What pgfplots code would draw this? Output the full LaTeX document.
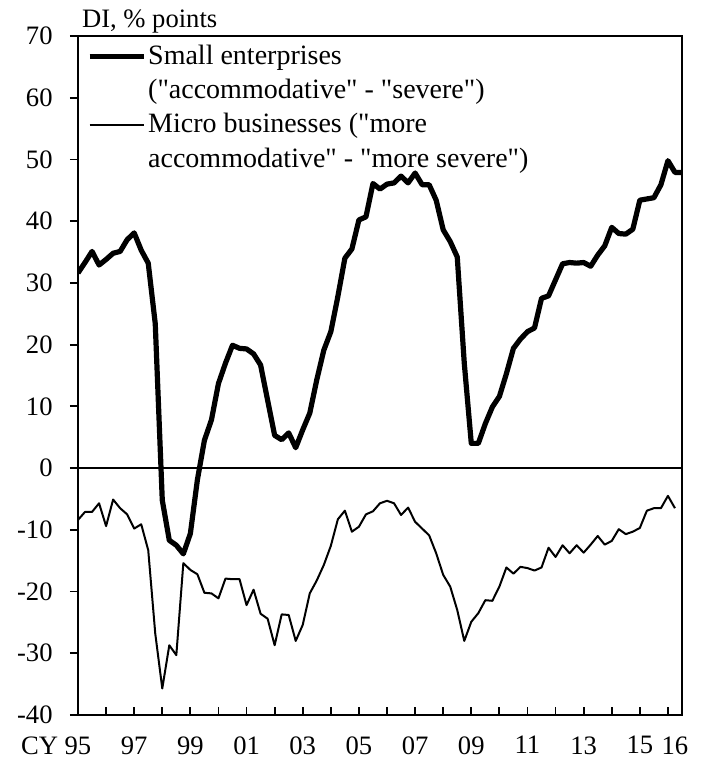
\documentclass[border=0pt]{standalone}
\usepackage{fontspec}
\setmainfont{Liberation Serif}[Ligatures=TeXOff]
\usepackage{pgfplots}
\pgfplotsset{compat=1.18}
\newcommand\ff{\fontsize{13.3}{16.3}\selectfont}
\newcommand\lf{\fontsize{14}{17}\selectfont}
\begin{document}
\begin{tikzpicture}
\useasboundingbox (-39pt,-25pt) rectangle (314.5pt,357.5pt);
\begin{axis}[
  at={(0,0)}, anchor=south west,
  scale only axis, width=302pt, height=339.5pt,
  xmin=0, xmax=86, ymin=-40, ymax=70,
  clip mode=individual,
  axis line style={line width=1.1pt},
  /pgf/number format/assume math mode=true,
  xtick={0,4,...,84},
  xticklabels={{\llap{CY\ }95},{},97,{},99,{},01,{},03,{},05,{},07,{},09,{},11,{},13,{},15,{}},
  extra x ticks={85}, extra x tick labels={16},
  extra x tick style={major tick length=0pt},
  xtick pos=lower, xtick align=inside,
  x tick style={line width=0.9pt, black}, major tick length=4pt,
  xticklabel style={font=\ff, inner sep=0pt, anchor=north, yshift=-10.5pt},
  ytick={-40,-30,...,70},
  yticklabels={-40,-30,-20,-10,0,10,20,30,40,50,60,70},
  ytick pos=left, ytick align=outside,
  y tick style={line width=0.9pt, black},
  yticklabel style={font=\ff, inner sep=0pt, anchor=east, xshift=-8.5pt},
  extra y ticks={0}, extra y tick labels={},
  extra y tick style={grid=major, major grid style={black, line width=1pt}, major tick length=0pt},
  legend style={at={(0,1)}, anchor=north west, xshift=4.5pt, yshift=-2.6pt, draw=none, fill=none,
    inner sep=0pt, outer sep=0pt, row sep=1.9pt, column sep=1pt,
    nodes={inner sep=0pt, text height=11.5pt, text depth=3.8pt, font=\lf}},
  legend cell align=left,
  legend image code/.code={\draw[#1] (0pt,0pt) -- (27pt,0pt);},
]
\addplot[black, line width=2.6pt, line join=round] coordinates {
(0,31.6)(1,33.3)(2,35.1)(3,32.9)(4,33.8)(5,34.8)(6,35.1)(7,37.0)(8,38.1)(9,35.3)
(10,33.2)(11,23.4)(12,-5.2)(13,-11.7)(14,-12.5)(15,-13.9)(16,-10.6)(17,-1.9)(18,4.5)(19,7.8)
(20,13.7)(21,17.0)(22,19.9)(23,19.4)(24,19.3)(25,18.5)(26,16.7)(27,11.0)(28,5.3)(29,4.6)
(30,5.7)(31,3.3)(32,6.2)(33,8.9)(34,14.3)(35,19.1)(36,22.1)(37,27.8)(38,34.0)(39,35.5)
(40,40.2)(41,40.7)(42,46.1)(43,45.2)(44,46.0)(45,46.2)(46,47.3)(47,46.2)(48,47.8)(49,45.9)
(50,45.9)(51,43.4)(52,38.6)(53,36.7)(54,34.2)(55,17.0)(56,4.0)(57,4.0)(58,7.2)(59,9.9)
(60,11.6)(61,15.3)(62,19.4)(63,20.9)(64,22.1)(65,22.7)(66,27.5)(67,27.9)(68,30.5)(69,33.1)
(70,33.3)(71,33.2)(72,33.3)(73,32.7)(74,34.5)(75,36.0)(76,39.0)(77,38.0)(78,37.9)(79,38.7)
(80,43.4)(81,43.6)(82,43.8)(83,45.9)(84,49.8)(85,47.9)(86,47.9)
};
\addlegendentry{Small enterprises}
\addlegendimage{empty legend}
\addlegendentry{("accommodative" - "severe")}
\addplot[black, line width=1pt, line join=round] coordinates {
(0,-8.4)(1,-7.1)(2,-7.1)(3,-5.7)(4,-9.4)(5,-5.1)(6,-6.5)(7,-7.5)(8,-9.8)(9,-9.1)
(10,-13.3)(11,-26.8)(12,-35.7)(13,-28.7)(14,-30.3)(15,-15.4)(16,-16.5)(17,-17.2)(18,-20.2)(19,-20.3)
(20,-21.1)(21,-17.9)(22,-18.0)(23,-18.0)(24,-22.2)(25,-19.7)(26,-23.6)(27,-24.4)(28,-28.7)(29,-23.7)
(30,-23.8)(31,-28.0)(32,-25.4)(33,-20.3)(34,-18.2)(35,-15.7)(36,-12.6)(37,-8.3)(38,-6.9)(39,-10.3)
(40,-9.5)(41,-7.5)(42,-7.0)(43,-5.7)(44,-5.3)(45,-5.7)(46,-7.6)(47,-6.4)(48,-8.7)(49,-9.8)
(50,-10.9)(51,-13.8)(52,-17.3)(53,-19.2)(54,-23.0)(55,-28.0)(56,-24.9)(57,-23.5)(58,-21.4)(59,-21.5)
(60,-19.2)(61,-16.1)(62,-17.1)(63,-16.0)(64,-16.2)(65,-16.6)(66,-16.1)(67,-12.9)(68,-14.4)(69,-12.5)
(70,-13.8)(71,-12.5)(72,-13.7)(73,-12.4)(74,-11.0)(75,-12.4)(76,-11.8)(77,-9.9)(78,-10.7)(79,-10.3)
(80,-9.7)(81,-6.9)(82,-6.5)(83,-6.5)(84,-4.5)(85,-6.5)
};
\addlegendentry{Micro businesses ("more}
\addlegendimage{empty legend}
\addlegendentry{accommodative" - "more severe")}
\node[font=\ff, anchor=base west, inner sep=0pt] at (rel axis cs:0,1) [xshift=1.85pt, yshift=4pt] {DI, \% points};
\end{axis}
\end{tikzpicture}
\end{document}
